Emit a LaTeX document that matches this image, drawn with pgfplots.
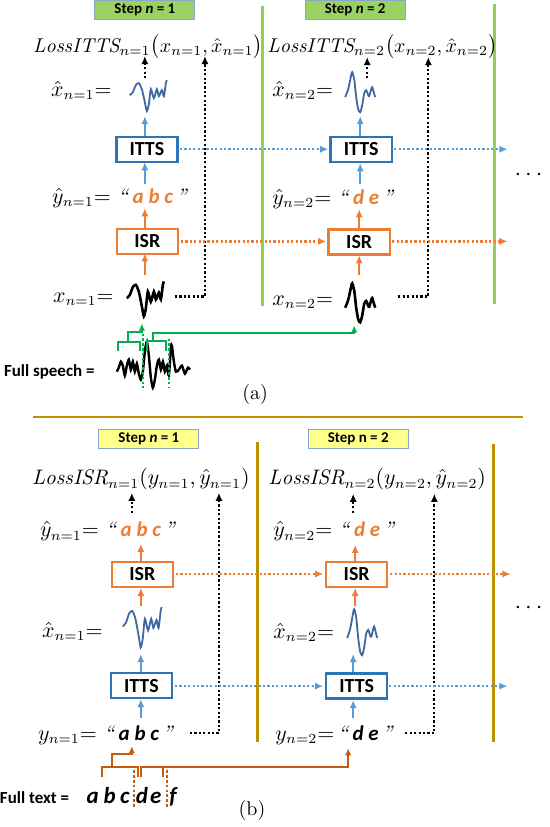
\documentclass[border=0pt]{standalone}
\usepackage{fontspec}
\usepackage{pgfplots}
\usepackage{pgfplotstable}
\pgfplotsset{compat=1.18}
\usetikzlibrary{arrows.meta}
\newfontfamily\calib{Carlito}

\definecolor{stepg}{HTML}{9BD063}
\definecolor{stepb}{HTML}{8AA6C4}
\definecolor{lineg}{HTML}{92D050}
\definecolor{ittsb}{HTML}{2E75B6}
\definecolor{arrb}{HTML}{5B9BD5}
\definecolor{orng}{HTML}{ED7D31}
\definecolor{dorng}{HTML}{C55A11}
\definecolor{gold}{HTML}{BF9000}
\definecolor{yel}{HTML}{FFFF8C}
\definecolor{brg}{HTML}{00B050}
\definecolor{wavb}{HTML}{41679F}

% waveform shapes, pixel offsets from top-left corner
\pgfplotstableread{
x y
0 15
3 12
6 5
9 3
12 9
15 22
17 31
19 24
21 9
24 18
27 9
29 16
32 10
34 16
36 3
37 0
}\waveA
\pgfplotstableread{
x y
0 26
3 18
6 4
7 1
9 8
11 26
13 38
15 41
17 34
19 22
21 19
23 24
24 25
26 18
27 16
29 23
30 26
}\waveB
\pgfplotstableread{
x y
122 372
124 368
126 362
128 366
130 376
132 366
134 360
136 370
138 362
140 372
142 364
144 374
146 380
148 372
150 352
152 342
154 356
156 378
158 388
160 380
162 366
164 360
166 370
168 362
170 372
172 366
174 376
176 348
177 346
179 362
181 372
184 370
187 366
190 374
193 368
195 370
}\waveFull

\tikzset{
  bx/.style={draw, line width=1.2bp, fill=white, minimum width=30.5bp, minimum height=12.5bp,
    inner sep=0pt, font=\calib\bfseries\fontsize{10}{12}\selectfont},
  stp/.style={draw=stepb, line width=0.5bp, minimum width=50bp, minimum height=9.5bp,
    inner sep=0pt, font=\calib\bfseries\fontsize{7.5}{9}\selectfont},
  mt/.style={anchor=base west, inner sep=0pt, font=\fontsize{10.5}{12}\selectfont},
  lt/.style={anchor=base west, inner sep=0pt, font=\fontsize{10}{12}\selectfont},
  ft/.style={anchor=base, inner sep=0pt, font=\calib\bfseries\itshape\fontsize{11.5}{12}\selectfont},
}
\pgfplotsset{
  sarr/.style={line width=1.1bp, -{Latex[length=4bp,width=3.6bp]}},
  darr/.style={line width=1.1bp, dash pattern=on 1.1bp off 1.1bp, -{Latex[length=4bp,width=3.6bp]}},
  kdot/.style={black, line width=1.4bp, dash pattern=on 1.3bp off 1.1bp},
}

\newcommand{\abc}[2]{\textit{“}\,{\calib\bfseries\itshape\color{#1}#2}\,\textit{”}}

\begin{document}
\begin{tikzpicture}
\begin{axis}[
  width=276bp, height=413.5bp, scale only axis,
  xmin=0, xmax=552, ymin=0, ymax=827, y dir=reverse,
  axis lines=none, clip=false]

% ---------------- (a) ----------------
\addplot[lineg, line width=1.5bp] coordinates {(267,7)(267,306)};
\addplot[lineg, line width=1.5bp] coordinates {(499,5)(499,304)};

\node[stp, fill=stepg] at (axis cs:150,11) {Step \textit{n} = 1};
\node[stp, fill=stepg] at (axis cs:360,11) {Step \textit{n} = 2};

\node[lt] at (axis cs:38,53) {$\mathit{LossITTS}_{n=1}\bigl(x_{n=1},\hat{x}_{n=1}\bigr)$};
\node[lt] at (axis cs:272,53) {$\mathit{LossITTS}_{n=2}\bigl(x_{n=2},\hat{x}_{n=2}\bigr)$};

\node[mt] at (axis cs:56,97) {$\hat{x}_{n=1}{=}$};
\node[mt] at (axis cs:277,97) {$\hat{x}_{n=2}{=}$};
\node[mt] at (axis cs:57,204) {$\hat{y}_{n=1}{=}$\ \abc{orng}{a b c}};
\node[mt] at (axis cs:277,205) {$\hat{y}_{n=2}{=}$\ \abc{orng}{d e}};
\node[mt] at (axis cs:58,303) {$x_{n=1}{=}$};
\node[mt] at (axis cs:277,306) {$x_{n=2}{=}$};

% black dotted loss arrows
\addplot[kdot, darr] coordinates {(150,79)(150,57)};
\addplot[kdot, darr] coordinates {(180,297)(210,297)(210,57)};
\addplot[kdot, darr] coordinates {(372,79)(372,58)};
\addplot[kdot, darr] coordinates {(403,297)(433,297)(433,58)};

% waveforms
\addplot[wavb, line width=0.9bp, smooth, tension=0.4] table[x expr=\thisrow{x}+135, y expr=\thisrow{y}+81] {\waveA};
\addplot[wavb, line width=0.9bp, smooth, tension=0.4] table[x expr=\thisrow{x}+350, y expr=\thisrow{y}+72] {\waveB};
\addplot[black, line width=1.3bp, smooth, tension=0.4] table[x expr=\thisrow{x}+132, y expr=\thisrow{y}*1.12+282] {\waveA};
\addplot[black, line width=1.3bp, smooth, tension=0.4] table[x expr=\thisrow{x}+350, y expr=\thisrow{y}*0.97+283] {\waveB};
\addplot[black, line width=1.2bp, smooth, tension=0.4] table {\waveFull};

% flow arrows
\addplot[arrb, sarr] coordinates {(150,137)(150,117)};
\addplot[arrb, sarr] coordinates {(150,185)(150,163)};
\addplot[arrb, sarr] coordinates {(365,137)(365,117)};
\addplot[arrb, sarr] coordinates {(365,185)(365,164)};
\addplot[orng, sarr] coordinates {(150,230)(150,209)};
\addplot[orng, sarr] coordinates {(150,276)(150,254)};
\addplot[orng, sarr] coordinates {(364,230)(364,210)};
\addplot[orng, sarr] coordinates {(364,276)(364,256)};
\addplot[arrb, darr] coordinates {(185,150)(333,150)};
\addplot[arrb, darr] coordinates {(399,150)(512,150)};
\addplot[orng, darr] coordinates {(186,242)(331,242)};
\addplot[orng, darr] coordinates {(397,242)(512,242)};

\node[bx, draw=ittsb] at (axis cs:152,150) {ITTS};
\node[bx, draw=ittsb] at (axis cs:366,150) {ITTS};
\node[bx, draw=orng] at (axis cs:152.5,242) {ISR};
\node[bx, draw=orng] at (axis cs:364,242.5) {ISR};

% speech segmentation
\addplot[brg, line width=1bp] coordinates {(123,351)(123,342)(145,342)(145,351)};
\addplot[brg, line width=1bp, -{Latex[length=3.5bp,width=3.2bp]}] coordinates {(133,342)(133,332)(147,332)(147,324)};
\addplot[brg, line width=1bp] coordinates {(152,351)(152,341)(171,341)(171,351)};
\addplot[brg, line width=1bp, -{Latex[length=3.5bp,width=3.2bp]}] coordinates {(158,341)(158,333)(359,333)(359,326)};
\addplot[brg, line width=1.3bp, dash pattern=on 1.3bp off 1.1bp] coordinates {(148,334)(148,388)};
\addplot[brg, line width=1.3bp, dash pattern=on 1.3bp off 1.1bp] coordinates {(174,339)(174,388)};

\node[anchor=west, inner sep=0pt, font=\calib\bfseries\fontsize{8.5}{10}\selectfont] at (axis cs:9,372) {Full speech =};
\node[font=\fontsize{10}{12}\selectfont] at (axis cs:260,395) {(a)};
\node[font=\fontsize{12}{12}\selectfont] at (axis cs:533,176) {$\cdots$};

% separator
\addplot[gold, line width=1.1bp] coordinates {(38,417)(528,417)};

% ---------------- (b) ----------------
\addplot[gold, line width=1.5bp] coordinates {(262,442)(262,742)};
\addplot[gold, line width=1.5bp] coordinates {(498,444)(498,742)};

\node[stp, fill=yel] at (axis cs:154,439) {Step \textit{n} = 1};
\node[stp, fill=yel] at (axis cs:363,439) {Step n = 2};

\node[mt] at (axis cs:37,485) {$\mathit{LossISR}_{n=1}\bigl(y_{n=1},\hat{y}_{n=1}\bigr)$};
\node[mt] at (axis cs:273,485) {$\mathit{LossISR}_{n=2}\bigl(y_{n=2},\hat{y}_{n=2}\bigr)$};

\node[mt] at (axis cs:45,537) {$\hat{y}_{n=1}{=}$\ \abc{orng}{a b c}};
\node[mt] at (axis cs:278,537) {$\hat{y}_{n=2}{=}$\ \abc{orng}{d e}};
\node[mt] at (axis cs:47,637) {$\hat{x}_{n=1}{=}$};
\node[mt] at (axis cs:278,638) {$\hat{x}_{n=2}{=}$};
\node[mt] at (axis cs:43,740) {$y_{n=1}{=}$\ \abc{black}{a b c}};
\node[mt] at (axis cs:280,740) {$y_{n=2}{=}$\,\abc{black}{d e}};

\addplot[kdot, darr] coordinates {(137,513)(137,493)};
\addplot[kdot, darr] coordinates {(195,733)(224,733)(224,493)};
\addplot[kdot, darr] coordinates {(358,513)(358,494)};
\addplot[kdot, darr] coordinates {(410,733)(439,733)(439,494)};

\addplot[wavb, line width=0.9bp, smooth, tension=0.4] table[x expr=\thisrow{x}*1.05+128, y expr=\thisrow{y}*1.3+607] {\waveA};
\addplot[wavb, line width=0.9bp, smooth, tension=0.4] table[x expr=\thisrow{x}+352, y expr=\thisrow{y}*1.15+608] {\waveB};

\addplot[orng, sarr] coordinates {(146,561)(146,544)};
\addplot[orng, sarr] coordinates {(146,606)(146,588)};
\addplot[orng, sarr] coordinates {(360,561)(360,545)};
\addplot[orng, sarr] coordinates {(360,606)(360,588)};
\addplot[arrb, sarr] coordinates {(146,672)(146,654)};
\addplot[arrb, sarr] coordinates {(146,718)(146,699)};
\addplot[arrb, sarr] coordinates {(358,672)(358,654)};
\addplot[arrb, sarr] coordinates {(358,718)(358,700)};
\addplot[orng, darr] coordinates {(181,574)(328,574)};
\addplot[orng, darr] coordinates {(395,574)(515,574)};
\addplot[arrb, darr] coordinates {(180,686)(328,686)};
\addplot[arrb, darr] coordinates {(394,686)(512,686)};

\node[bx, draw=orng] at (axis cs:147.5,574.5) {ISR};
\node[bx, draw=orng] at (axis cs:361.5,574.5) {ISR};
\node[bx, draw=ittsb] at (axis cs:146.5,685.5) {ITTS};
\node[bx, draw=ittsb] at (axis cs:361.5,686) {ITTS};

% text segmentation
\addplot[dorng, line width=1bp] coordinates {(107,777)(107,767)(143,767)(143,777)};
\addplot[dorng, line width=1bp, -{Latex[length=3.5bp,width=3.2bp]}] coordinates {(117,767)(117,754)(137,754)(137,746)};
\addplot[dorng, line width=1bp] coordinates {(146,777)(146,767)(168,767)(168,777)};
\addplot[dorng, line width=1bp, -{Latex[length=3.5bp,width=3.2bp]}] coordinates {(159,767)(353,767)(353,748)};
\addplot[dorng, line width=1.3bp, dash pattern=on 1.3bp off 1.1bp] coordinates {(139,770)(139,808)};
\addplot[dorng, line width=1.3bp, dash pattern=on 1.3bp off 1.1bp] coordinates {(172,770)(172,808)};

\node[anchor=west, inner sep=0pt, font=\calib\bfseries\fontsize{8.5}{10}\selectfont] at (axis cs:5,797) {Full text =};
\node[ft] at (axis cs:98,803) {a};
\node[ft] at (axis cs:115,803) {b};
\node[ft] at (axis cs:130,803) {c};
\node[ft] at (axis cs:147,803) {d};
\node[ft] at (axis cs:161,803) {e};
\node[ft] at (axis cs:178,803) {f};
\node[font=\fontsize{10}{12}\selectfont] at (axis cs:257,810) {(b)};
\node[font=\fontsize{12}{12}\selectfont] at (axis cs:533,608) {$\cdots$};
\end{axis}
\end{tikzpicture}
\end{document}
